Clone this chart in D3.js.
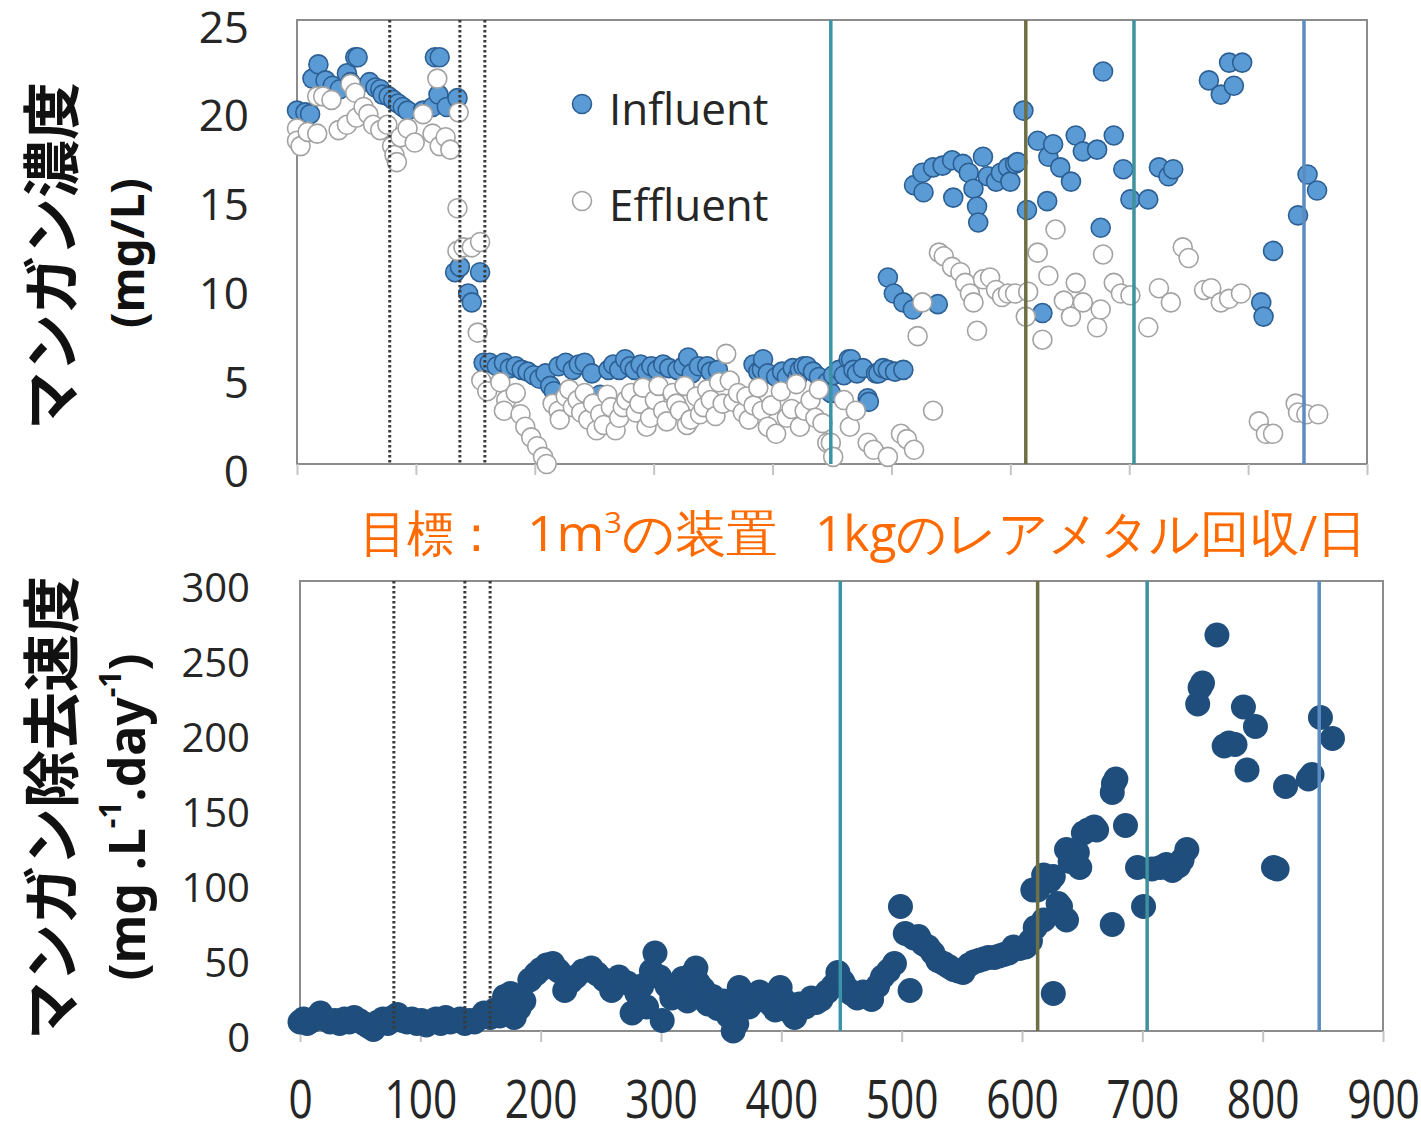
<!DOCTYPE html>
<html lang="ja">
<head>
<meta charset="utf-8">
<script src="https://cdn.jsdelivr.net/npm/d3@7"></script>
<style>
  body { margin: 0; background: #fff; overflow: hidden; }
  text { font-family: "Open Sans", "Noto Sans", sans-serif; }
</style>
</head>
<body>
<svg id="chart" width="1421" height="1121"></svg>
<script>
// x: days, shared by both panels
var dayTicks = [0, 100, 200, 300, 400, 500, 600, 700, 800, 900];
var concTicks = [0, 5, 10, 15, 20, 25];
var rateTicks = [0, 50, 100, 150, 200, 250, 300];

// operating changes (vertical lines)
var dottedDays = [78, 137, 158];
var solidDays = [449, 613, 704, 847];

// [day, mg/L]
var influent = [
  [0,19.9],[7,19.8],[11,19.7],[13,21.7],[18,22.5],[24,21.6],[30,21.3],[36,21.1],[42,22.0],[45,21.5],
  [49,22.9],[51,22.9],[61,21.5],[66,21.2],[70,21.1],[72,20.8],[77,20.7],[81,20.5],[85,20.3],[89,20.1],
  [93,19.9],[106,19.9],[114,20.1],[116,22.9],[120,22.9],[119,20.8],[126,20.1],[135,20.6],
  [133,10.8],[137,11.1],[144,9.6],[147,9.1],[154,10.8],
  [157,5.7],[162,5.7],[168,5.5],[174,5.7],[179,5.4],[184,5.5],[189,5.3],[194,5.2],[199,5.0],[204,4.8],
  [209,5.1],[213,4.4],[216,4.1],[220,5.5],[226,5.7],[232,5.3],[237,5.6],[242,5.7],[248,5.1],[255,3.9],
  [262,5.3],[266,5.6],[271,5.3],[276,5.9],[280,5.5],[284,5.3],[289,5.6],[294,5.2],[298,5.5],[303,5.3],
  [308,5.6],[313,5.4],[320,5.3],[325,5.5],[329,6.0],[332,5.1],[338,5.5],[345,5.5],[348,5.2],[354,5.3],
  [384,5.6],[388,5.2],[391,5.3],[392,5.9],[396,5.1],[403,4.9],[408,5.2],[412,4.9],[417,5.4],[421,4.9],
  [423,5.3],[426,5.5],[429,5.5],[434,5.2],[439,4.9],[446,4.6],[449,4.0],[451,5.0],[456,5.3],[460,5.0],
  [464,5.9],[466,5.9],[468,5.3],[471,5.1],[476,5.4],[480,3.7],[481,3.5],[487,5.1],[489,5.1],[493,5.4],
  [497,5.3],[503,5.2],[510,5.3],
  [497,10.5],[502,9.6],[510,9.1],[518,8.7],[539,9.0],
  [519,15.7],[527,15.3],[526,16.4],[535,16.7],[543,16.8],[552,15.0],[551,17.1],[560,16.9],[565,16.4],
  [569,15.5],[572,14.5],[573,13.6],[577,17.3],[581,16.2],[588,15.9],[592,16.4],[598,16.7],[600,15.9],
  [604,16.9],[606,17.0],[611,19.9],[614,14.3],[623,18.2],[627,8.5],[631,14.8],[632,17.3],[636,18.0],
  [642,16.7],[651,15.9],[655,18.5],[661,17.6],[673,17.7],[676,13.3],[678,22.1],[687,18.5],[695,16.6],
  [701,14.9],[716,14.9],[725,16.7],[733,16.2],[737,16.6],
  [767,21.6],[777,20.8],[788,21.3],[784,22.6],[795,22.6],[811,9.1],[813,8.3],[821,12.0],
  [842,14.0],[850,16.3],[858,15.4]
];

// [day, mg/L]
var effluent = [
  [0,18.9],[0,18.2],[3,17.9],[9,18.7],[17,18.6],[17,20.7],[22,20.7],[29,20.5],[35,18.8],[42,19.1],
  [45,21.4],[49,20.9],[50,19.5],[56,20.1],[60,19.7],[64,19.1],[70,18.8],[76,19.1],[80,17.9],[82,17.4],
  [84,17.0],[87,18.4],[93,18.9],[99,18.1],[106,19.7],[114,18.6],[118,21.7],[120,17.9],[125,18.4],
  [129,17.7],[136,19.8],[135,14.4],[135,12.0],[140,12.2],[147,12.2],[154,12.5],[152,7.4],
  [155,4.7],[160,4.1],[171,4.6],[176,3.6],[184,4.0],[174,3.0],[188,2.8],[192,2.1],[197,1.5],[202,1.0],
  [207,0.4],[210,0.0],[215,3.4],[220,3.0],[221,2.5],[226,3.8],[229,4.2],[232,3.2],[236,3.6],[239,2.9],
  [242,4.0],[245,2.5],[249,3.4],[252,1.9],[255,2.8],[258,2.2],[261,3.9],[264,3.2],[268,1.9],[271,2.6],
  [274,3.2],[277,3.6],[281,4.0],[285,2.9],[288,3.4],[291,4.3],[294,2.1],[297,2.6],[301,3.6],[304,4.4],
  [308,3.0],[311,2.4],[316,4.0],[319,3.4],[322,3.0],[326,4.4],[328,2.2],[331,2.5],[336,3.8],[339,2.8],
  [342,3.2],[345,4.2],[348,3.6],[352,2.7],[355,4.6],[358,3.4],[361,6.2],[364,4.7],[367,3.5],[371,4.0],
  [375,2.9],[378,3.8],[380,2.5],[384,3.3],[388,4.3],[391,3.0],[396,2.1],[399,3.3],[403,1.7],[407,4.1],
  [412,2.6],[416,3.1],[420,4.5],[423,2.1],[427,3.0],[432,3.6],[436,2.6],[439,4.2],[442,2.3],[446,1.2],
  [449,1.2],[451,0.4],
  [460,3.6],[465,2.1],[470,3.0],[480,1.2],[485,0.8],[497,0.4],[508,1.7],[513,1.4],[519,0.8],
  [522,7.2],[526,9.1],[535,3.0],[540,11.9],[544,11.7],[551,11.1],[558,10.8],[562,10.2],[566,9.6],
  [569,9.1],[572,7.5],[577,10.4],[583,10.5],[588,9.8],[593,9.4],[598,9.6],[604,9.6],[613,8.3],[615,9.7],
  [623,11.9],[627,7.0],[632,10.6],[638,13.2],[645,9.2],[651,8.3],[655,10.2],[661,9.1],[673,7.7],
  [676,8.7],[678,11.8],[687,10.2],[693,9.6],[701,9.5],[716,7.7],[725,9.9],[735,9.1],[745,12.2],
  [750,11.6],[763,9.8],[769,9.9],[777,9.1],[784,9.3],[794,9.6],
  [809,2.4],[815,1.7],[821,1.7],[840,3.4],[842,2.9],[849,2.8],[859,2.8]
];

// [day, mg L-1 day-1]
var removal = [
  [0,6],[3,8],[6,5],[10,7],[14,9],[17,12],[21,8],[25,6],[29,7],[33,5],[37,8],[41,6],[45,9],[49,7],
  [53,5],[57,3],[61,1],[65,6],[69,8],[73,5],[77,9],[81,11],[85,7],[89,6],[93,8],[97,5],[101,7],
  [105,4],[109,6],[113,8],[117,5],[121,9],[125,6],[129,7],[133,8],[137,5],[141,7],[145,6],
  [150,9],[153,12],[158,9],[162,14],[166,10],[170,23],[175,25],[178,9],[182,15],[186,20],[191,34],
  [196,38],[200,41],[205,44],[210,45],[215,40],[220,27],[225,33],[229,36],[235,40],[242,42],[247,38],
  [253,34],[259,27],[265,36],[272,32],[276,12],[280,25],[284,30],[288,16],[292,40],[295,52],[299,36],
  [301,7],[305,30],[309,22],[314,27],[318,35],[322,20],[326,38],[329,42],[331,32],[335,28],[339,18],
  [343,23],[347,15],[352,20],[356,10],[360,0],[363,5],[365,29],[369,22],[373,16],[378,20],[382,26],
  [386,23],[391,18],[395,14],[399,29],[403,20],[407,13],[411,9],[415,18],[420,16],[425,22],[429,19],
  [433,21],[438,26],[443,30],[447,39],[451,33],[455,28],[458,25],[463,22],[468,26],[471,24],[475,21],
  [480,30],[484,36],[489,40],[494,45],[499,83],[503,65],[507,27],[510,62],[514,63],[518,58],[522,56],
  [526,52],[530,47],[535,45],[539,43],[543,41],[547,40],[551,39],[556,44],[560,46],[564,47],[568,48],
  [572,49],[577,49],[581,50],[585,51],[589,52],[593,56],[598,55],[603,56],[607,60],[609,94],[611,69],
  [613,94],[618,104],[618,74],[623,100],[626,103],[626,25],[630,85],[632,83],[637,74],[637,121],
  [640,113],[644,116],[646,119],[648,109],[651,132],[655,134],[660,136],[662,134],[675,71],[675,159],
  [676,165],[678,168],[686,137],[696,109],[701,83],[708,108],[715,109],[720,111],[725,107],[730,110],
  [733,114],[737,121],[746,218],[748,229],[750,232],[762,264],[768,190],[772,192],[777,191],[784,216],
  [787,174],[794,203],[809,109],[812,108],[819,163],[838,168],[841,171],[848,209],[858,195]
];

var seriesNames = ["Influent", "Effluent"];

var svg = d3.select("#chart");
svg.append("rect").attr("width", 1421).attr("height", 1121).attr("fill", "#fff");

var frameColor = "#8c8c8c";
var tickColor = "#c4c4c4";
var labelColor = "#262626";

// ---------- top panel: concentration ----------
var xTop = d3.scaleLinear().domain([0, 900]).range([297, 1367]);
var yTop = d3.scaleLinear().domain([0, 25]).range([464, 20]);

// ---------- bottom panel: removal rate ----------
var xBot = d3.scaleLinear().domain([0, 900]).range([300, 1383]);
var yBot = d3.scaleLinear().domain([0, 300]).range([1031, 581]);

function frame(x, y) {
    svg.append("rect")
        .attr("x", x.range()[0]).attr("y", y.range()[1])
        .attr("width", x.range()[1] - x.range()[0])
        .attr("height", y.range()[0] - y.range()[1])
        .attr("fill", "none").attr("stroke", frameColor).attr("stroke-width", 2);
}

function xTickMarks(x, y) {
    var g = svg.append("g")
        .attr("transform", "translate(0," + y.range()[0] + ")")
        .call(d3.axisBottom(x).tickValues(dayTicks).tickSize(11).tickFormat(""));
    g.select(".domain").remove();
    g.selectAll("line").attr("stroke", tickColor).attr("stroke-width", 2);
    return g;
}

function yLabels(x, y, ticks, size, pad) {
    var g = svg.append("g")
        .attr("transform", "translate(" + x.range()[0] + ",0)")
        .call(d3.axisLeft(y).tickValues(ticks).tickSize(0).tickPadding(pad));
    g.select(".domain").remove();
    g.selectAll("text")
        .attr("fill", labelColor)
        .attr("dy", "0.5em")
        .style("font-size", size + "px")
        .style("font-family", "'Open Sans', sans-serif");
}

function stageLines(x, y) {
    svg.append("g").selectAll("line")
        .data(dottedDays).enter().append("line")
        .attr("x1", function(d){ return x(d); }).attr("x2", function(d){ return x(d); })
        .attr("y1", y.range()[1]).attr("y2", y.range()[0])
        .attr("stroke", "#3a3a3a").attr("stroke-width", 3)
        .attr("stroke-dasharray", "2.5,2.5");
    var solidColors = ["#3a93a6", "#6f6f45", "#3f919c", "#5b8cc2"];
    svg.append("g").selectAll("line")
        .data(solidDays).enter().append("line")
        .attr("x1", function(d){ return x(d); }).attr("x2", function(d){ return x(d); })
        .attr("y1", y.range()[1]).attr("y2", y.range()[0])
        .attr("stroke", function(d, i){ return solidColors[i]; })
        .attr("stroke-width", 3.5);
}

frame(xTop, yTop);
xTickMarks(xTop, yTop);
yLabels(xTop, yTop, concTicks, 44, 48);

svg.append("g").selectAll("circle")
    .data(influent).enter().append("circle")
    .attr("cx", function(d){ return xTop(d[0]); })
    .attr("cy", function(d){ return yTop(d[1]); })
    .attr("r", 9.5)
    .attr("fill", "#5b9bd5").attr("stroke", "#2c5f93").attr("stroke-width", 1.6);

svg.append("g").selectAll("circle")
    .data(effluent).enter().append("circle")
    .attr("cx", function(d){ return xTop(d[0]); })
    .attr("cy", function(d){ return yTop(d[1]); })
    .attr("r", 9.5)
    .attr("fill", "#fff").attr("stroke", "#a3a3a3").attr("stroke-width", 1.6);

stageLines(xTop, yTop);

// legend
var legend = svg.append("g");
legend.selectAll("circle")
    .data(seriesNames).enter().append("circle")
    .attr("cx", 582).attr("cy", function(d, i){ return 104 + i * 97; })
    .attr("r", 9.5)
    .attr("fill", function(d, i){ return i === 0 ? "#5b9bd5" : "#fff"; })
    .attr("stroke", function(d, i){ return i === 0 ? "#2c5f93" : "#a3a3a3"; })
    .attr("stroke-width", 1.6);
legend.selectAll("text")
    .data(seriesNames).enter().append("text")
    .attr("x", 609).attr("y", function(d, i){ return 125 + i * 96; })
    .attr("fill", labelColor)
    .style("font-size", "44px")
    .text(function(d){ return d; });

// bottom panel
frame(xBot, yBot);
var bx = xTickMarks(xBot, yBot);
bx.selectAll("text")
    .text(function(d){ return d; })
    .attr("y", 87).attr("dy", 0)
    .attr("fill", labelColor)
    .attr("transform", "scale(0.8,1)")
    .style("font-size", "53px")
    .style("font-family", "'Open Sans', sans-serif");
yLabels(xBot, yBot, rateTicks, 40, 50);

svg.append("g").selectAll("circle")
    .data(removal).enter().append("circle")
    .attr("cx", function(d){ return xBot(d[0]); })
    .attr("cy", function(d){ return yBot(d[1]); })
    .attr("r", 12.5)
    .attr("fill", "#1f4e7d");

stageLines(xBot, yBot);

// y axis titles
function yTitle(cx, cy, size, family, build) {
    var t = svg.append("text")
        .attr("transform", "translate(" + cx + "," + cy + ") rotate(-90)")
        .attr("text-anchor", "middle")
        .attr("dominant-baseline", "central")
        .attr("fill", "#111")
        .style("font-size", size + "px")
        .style("font-weight", "bold")
        .style("font-family", family);
    build(t);
}
yTitle(48, 256, 58, "'Noto Sans CJK JP', sans-serif", function(t){ t.text("マンガン濃度"); });
yTitle(126, 253, 46, "'Noto Sans', sans-serif", function(t){ t.text("(mg/L)"); });
yTitle(48, 808, 58, "'Noto Sans CJK JP', sans-serif", function(t){ t.text("マンガン除去速度"); });
yTitle(126, 817, 50, "'Noto Sans', sans-serif", function(t){
    t.append("tspan").text("(mg .L");
    t.append("tspan").attr("dy", -17).style("font-size", "30px").text("-1");
    t.append("tspan").attr("dy", 17).text(".day");
    t.append("tspan").attr("dy", -17).style("font-size", "30px").text("-1");
    t.append("tspan").attr("dy", 17).text(")");
});

// orange goal line
var goal = svg.append("g")
    .attr("fill", "#ff6a00")
    .style("font-family", "'Noto Sans CJK JP', sans-serif")
    .style("font-size", "50px");
goal.append("text").attr("x", 360).attr("y", 551)
    .attr("textLength", 140).attr("lengthAdjust", "spacingAndGlyphs")
    .text("目標：");
var g2 = goal.append("text").attr("x", 527).attr("y", 551)
    .attr("textLength", 251).attr("lengthAdjust", "spacingAndGlyphs");
g2.append("tspan").text("1m");
g2.append("tspan").attr("dy", -18).style("font-size", "30px").text("3");
g2.append("tspan").attr("dy", 18).text("の装置");
goal.append("text").attr("x", 815).attr("y", 551)
    .attr("textLength", 552).attr("lengthAdjust", "spacingAndGlyphs")
    .text("1kgのレアメタル回収/日");
</script>
</body>
</html>
